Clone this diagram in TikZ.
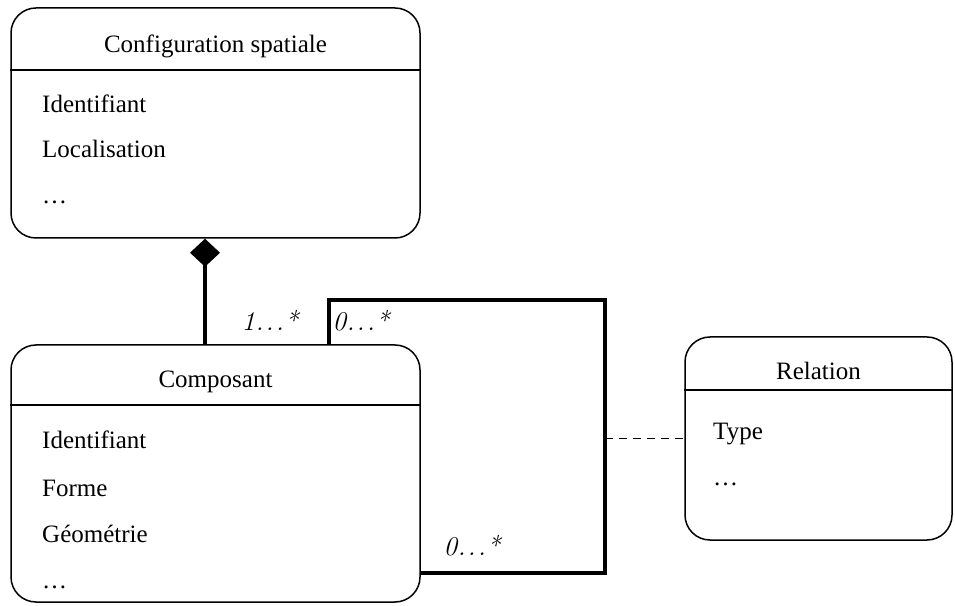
\documentclass[tikz,border=0pt]{standalone}
\usepackage{fontspec}
\setmainfont{Liberation Serif}
\usetikzlibrary{arrows.meta}
\usetikzlibrary{calc}

% 多重性中的省略号 (点距稍宽)
\newcommand{\multdots}{\kern0.5pt.\kern2pt.\kern2pt.\kern1pt}

\begin{document}
\begin{tikzpicture}[x=1pt, y=1pt]
        % ================= 样式 =================
        \tikzset{
            % 类框:圆角矩形
            classbox/.style={rectangle, draw=black, line width=1.5pt, rounded corners=25pt, inner sep=0pt},
            % 标题下的分隔线
            sepline/.style={line width=1.5pt},
            % 类名与属性文字
            classname/.style={anchor=base, inner sep=0pt, font=\fontsize{25}{29}\selectfont},
            attr/.style={anchor=base west, inner sep=0pt, font=\fontsize{25}{29}\selectfont},
            % 多重性标注 (Latin Modern 斜体)
            mult/.style={anchor=base, inner sep=0pt, font=\fontsize{27}{30}\usefont{TU}{lmr}{m}{it}},
            % 关联线
            assoc/.style={line width=4pt, line join=miter},
            linkline/.style={line width=1.5pt, dash pattern=on 8pt off 6pt}
        }
        \useasboundingbox (0,0) rectangle (955,605);

        % ================= 类:Configuration spatiale =================
        \node[classbox, minimum width=409pt, minimum height=230pt] (config) at (215.5,482) {};
        \draw[sepline] (config.west |- 0,535) -- (config.east |- 0,535);
        \node[classname] (configT) at (215.5,552) {Configuration spatiale};
        \node[attr] (configA) at (42,492) {Identifiant};
        \node[attr] (configB) at (42,447) {Localisation};
        \node[attr] (configC) at (42,401) {\dots};

        % ================= 类:Composant =================
        \node[classbox, minimum width=409pt, minimum height=257pt] (compo) at (215.5,131.5) {};
        \draw[sepline] (compo.west |- 0,200) -- (compo.east |- 0,200);
        \node[classname] (compoT) at (215.5,217) {Composant};
        \node[attr] (compoA) at (42,156) {Identifiant};
        \node[attr] (compoB) at (42,109) {Forme};
        \node[attr] (compoC) at (42,63) {Géométrie};
        \node[attr] (compoD) at (42,17) {\dots};

        % ================= 类:Relation =================
        \node[classbox, minimum width=267pt, minimum height=203pt] (rel) at (818.5,166.5) {};
        \draw[sepline] (rel.west |- 0,215) -- (rel.east |- 0,215);
        \node[classname] (relT) at (818.5,225) {Relation};
        \node[attr] (relA) at (713,165) {Type};
        \node[attr] (relB) at (713,120) {\dots};

        % ================= 组合关系 =================
        \draw[assoc, -{Diamond[length=28pt, width=30pt]}] (compo.north -| 205,0) -- (config.south -| 205,0);
        \node[mult] (m1) at (270,274) {1\multdots*};

        % ================= 自关联 (Composant -- Composant) =================
        \coordinate (loopTL) at (329,305);
        \coordinate (loopTR) at (605,305);
        \coordinate (loopBR) at (605,32);
        \draw[assoc] (loopTL |- compo.north) -- (loopTL) -- (loopTR) -- (loopBR) -- (loopBR -| compo.east);
        \node[mult] (m2) at (361,274) {0\multdots*};
        \node[mult] (m3) at (472,50) {0\multdots*};

        % 关联类的虚线
        \draw[linkline] (rel.west -| loopTR) -- (rel.west);

    \end{tikzpicture}
\end{document}
